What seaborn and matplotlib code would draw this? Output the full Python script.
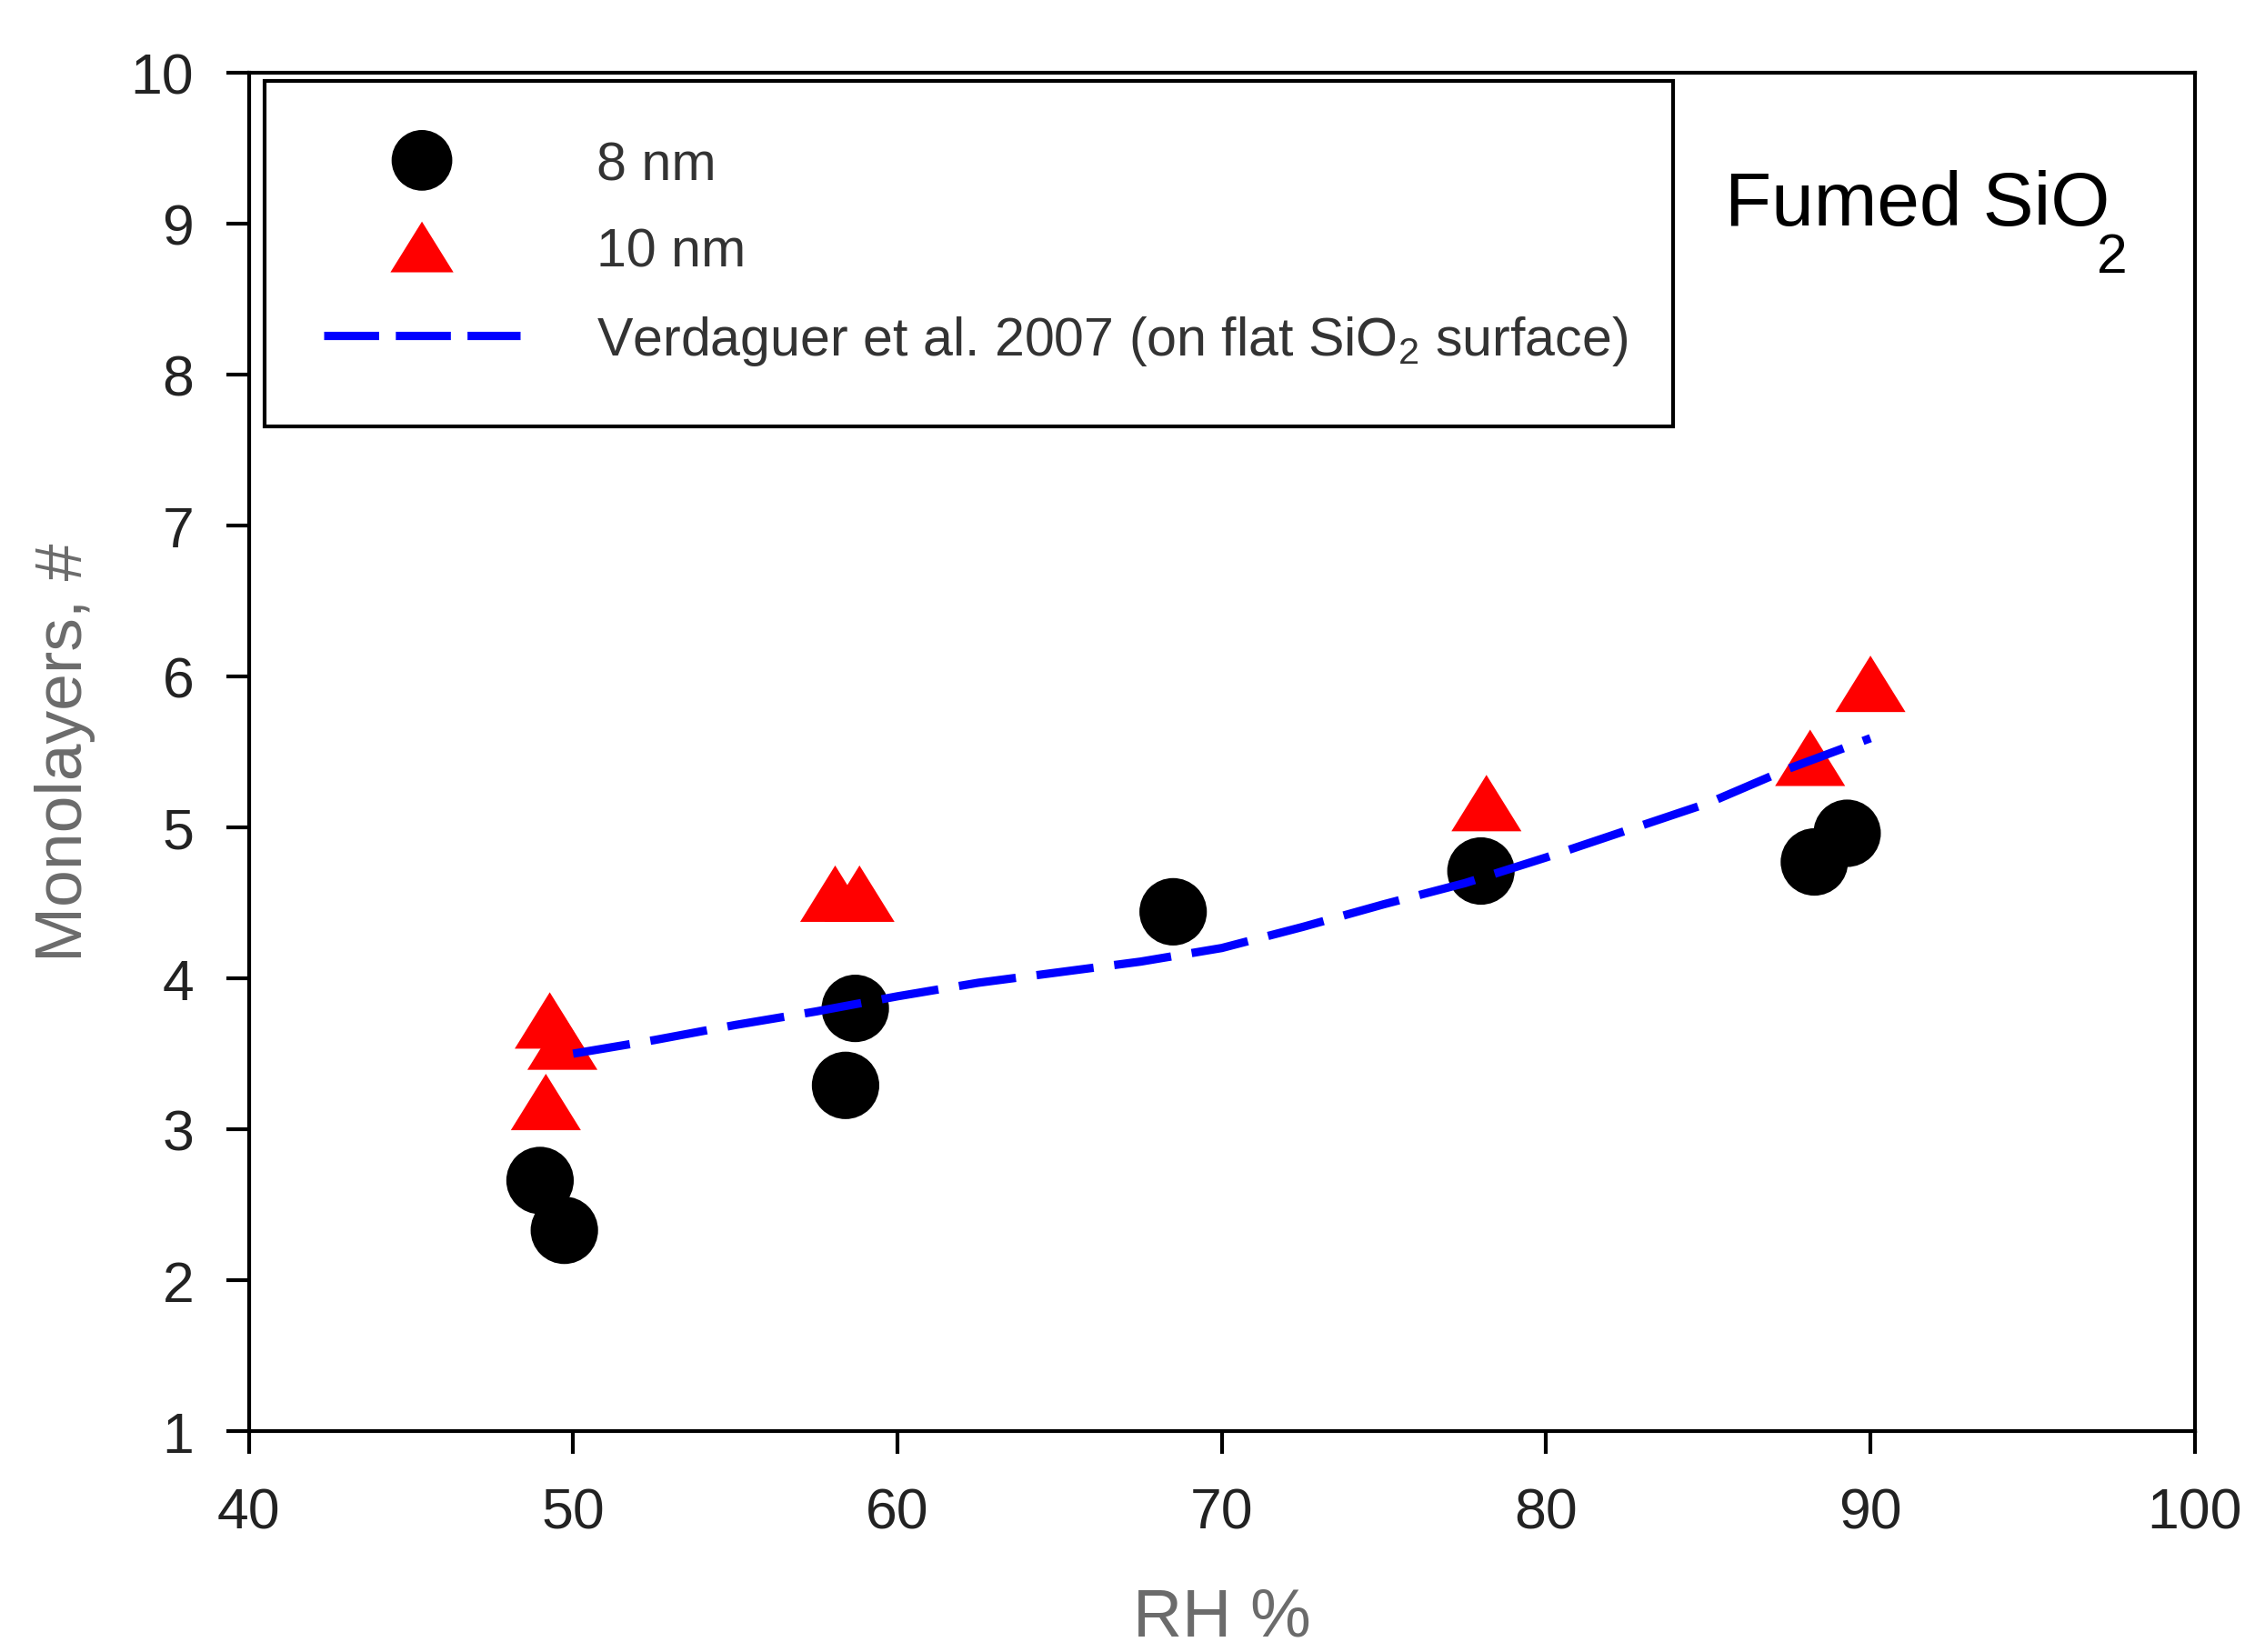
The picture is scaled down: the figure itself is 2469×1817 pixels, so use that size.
import matplotlib
matplotlib.use("Agg")
import matplotlib.pyplot as plt
from matplotlib.markers import MarkerStyle
from matplotlib.path import Path
import seaborn as sns

# Relative humidity (%) and number of adsorbed water monolayers
rh_8nm = [48.98, 49.73, 58.40, 58.70, 68.50, 77.99, 88.27, 89.28]
ml_8nm = [2.66, 2.33, 3.29, 3.80, 4.44, 4.71, 4.77, 4.96]

rh_10nm = [49.16, 49.28, 49.67, 58.08, 58.83, 78.16, 88.14, 90.00]
ml_10nm = [3.18, 3.72, 3.58, 4.56, 4.56, 5.16, 5.46, 5.95]

# Reference curve for water on a flat SiO2 surface
rh_ref = [50.0, 52.5, 55.0, 57.5, 60.0, 62.5, 65.0, 67.5, 70.0,
          72.5, 75.0, 77.5, 80.0, 82.5, 85.0, 87.5, 90.0]
ml_ref = [3.50, 3.59, 3.69, 3.78, 3.88, 3.97, 4.04, 4.11, 4.20,
          4.34, 4.49, 4.63, 4.80, 4.98, 5.16, 5.39, 5.59]

x_ticks = [40, 50, 60, 70, 80, 90, 100]
y_ticks = [1, 2, 3, 4, 5, 6, 7, 8, 9, 10]

label_8nm = "8 nm"
label_10nm = "10 nm"
label_ref = "Verdaguer et al. 2007 (on flat SiO$_2$ surface)"
x_label = "RH %"
y_label = "Monolayers, #"
title_main = "Fumed SiO"
title_sub = "2"

sns.set_style("ticks")
plt.rcParams["font.family"] = ["Liberation Sans", "DejaVu Sans"]
plt.rcParams["mathtext.fontset"] = "custom"
plt.rcParams["mathtext.rm"] = "Liberation Sans"
plt.rcParams["mathtext.it"] = "Liberation Sans:italic"
plt.rcParams["mathtext.bf"] = "Liberation Sans:bold"

fig = plt.figure(figsize=(2469 / 300, 1818 / 300), dpi=300, facecolor="white")
ax = fig.add_axes([0.11081, 0.13366, 0.86683, 0.82195])
ax.set_facecolor("white")

# slightly flattened upward triangle
tri = MarkerStyle(Path([(-1, -0.805), (1, -0.805), (0, 0.805), (-1, -0.805)], closed=True))

sns.scatterplot(x=rh_8nm, y=ml_8nm, ax=ax, color="black", marker="o",
                s=17.8 ** 2, linewidth=0, edgecolor="none", label=label_8nm,
                zorder=3, legend=False)
sns.scatterplot(x=rh_10nm, y=ml_10nm, ax=ax, color="#FF0000", marker=tri,
                s=18.5 ** 2, linewidth=0, edgecolor="none", label=label_10nm,
                zorder=3, legend=False)
sns.lineplot(x=rh_ref, y=ml_ref, ax=ax, color="#0000FF", linewidth=2.2,
             linestyle=(0, (6.9, 2.5)), label=label_ref, errorbar=None,
             zorder=4, legend=False)

ax.set_xlim(40, 100)
ax.set_ylim(1, 10)
ax.set_xticks(x_ticks)
ax.set_xticklabels([str(t) for t in x_ticks])
ax.set_yticks(y_ticks)
ax.set_yticklabels([str(t) for t in y_ticks])

for side in ["left", "right", "top", "bottom"]:
    ax.spines[side].set_visible(True)
    ax.spines[side].set_color("black")
    ax.spines[side].set_linewidth(1.0)

ax.tick_params(axis="both", which="major", direction="out", length=6,
               width=1.0, color="black", labelcolor="#222222",
               labelsize=15, pad=8.5, top=False, right=False,
               left=True, bottom=True)

ax.set_xlabel(x_label, fontsize=18, color="#6b6b6b")
ax.set_ylabel(y_label, fontsize=17.6, color="#6b6b6b")
ax.xaxis.set_label_coords(0.5, -0.114)
ax.yaxis.set_label_coords(-0.079, 0.5)

handles, labels = ax.get_legend_handles_labels()
leg = ax.legend(handles, labels, loc="upper left",
                bbox_to_anchor=(0.00813, 0.5, 0.7238, 0.49378),
                mode="expand", borderaxespad=0, borderpad=1.1,
                handlelength=3.65, handletextpad=1.42, labelspacing=0.68,
                prop={"size": 14.2}, frameon=True, fancybox=False,
                framealpha=1, edgecolor="black", scatterpoints=1,
                scatteryoffsets=[0.5], markerscale=0.9)
leg.get_frame().set_linewidth(1.0)
for t in leg.get_texts():
    t.set_color("#333333")
for ln in leg.get_lines():
    ln.set_linestyle((0, (6.6, 2.0)))

title = fig.text(0.76813, 0.86342, title_main, fontsize=20.1, color="black",
                 ha="left", va="baseline")
ax.annotate(title_sub, xy=(1, 0), xycoords=title, xytext=(-3.4, -8.4),
            textcoords="offset points", ha="left", va="baseline",
            fontsize=14.6, color="black")

fig.savefig("out.png", dpi=300, facecolor="white")
